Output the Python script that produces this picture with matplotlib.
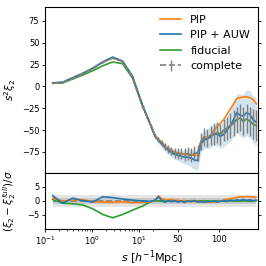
import numpy as np
import matplotlib
matplotlib.use("Agg")
import matplotlib.pyplot as plt
from matplotlib.ticker import FixedLocator, FixedFormatter

# separation bins: log bins at small s, linear bins above ~20
s = [0.146, 0.238, 0.389, 0.634, 1.04, 1.69, 2.76, 4.5, 7.3, 12.0, 18.0,
     22, 26, 30, 34, 38, 42, 46, 50, 54, 58, 62, 66, 70, 74, 78, 82, 86, 90,
     94, 98, 102, 106, 110, 114, 118, 122, 126, 130, 134, 138, 142, 146]

# s^2 xi_2
xi_complete = [3.8, 4.3, 9.5, 14.5, 20.5, 27.5, 32.5, 28.5, 11, -23, -45,
               -57, -61, -65, -69, -72, -74, -76, -77, -77, -78, -77, -79, -77, -76,
               -63, -58, -59, -56, -55, -53, -55, -50, -48, -45, -42, -38, -36, -40,
               -37, -40, -43, -45]
err_complete = [0.4, 0.4, 0.5, 0.6, 0.7, 0.8, 0.9, 1.0, 1.2, 1.5, 2.0,
                2.5, 3, 3.5, 4, 4.5, 5, 5.5, 6, 6.5, 7, 7.5, 8, 8.5, 9, 9.5, 10, 10.5,
                11, 11.5, 12, 12.5, 13, 13.5, 14, 14.5, 15, 15.5, 16, 16.5, 17, 17.5, 18]
xi_pip = [3.9, 4.4, 9.7, 14.6, 20.6, 27.6, 32.5, 28.6, 11.2, -22, -45,
          -56, -60, -64, -68, -71, -73, -75, -76, -77, -77, -78, -78, -79, -79,
          -64, -60, -58, -56, -50, -46, -42, -38, -32, -26, -20, -14, -13, -12,
          -12, -13, -15, -20]
xi_auw = [4.2, 4.8, 10, 15, 21, 28, 33.6, 29, 11.5, -22, -45,
          -57, -62, -66, -70, -73, -76, -78, -79, -80, -81, -81, -82, -84, -85,
          -66, -61, -60, -58, -54, -55, -57, -55, -50, -45, -38, -30, -33, -34,
          -30, -32, -38, -41]
std_auw = [0.5, 0.5, 0.6, 0.7, 0.8, 0.9, 1.0, 1.1, 1.3, 1.6, 2.2,
           3, 3.5, 4, 4.5, 5, 5, 5.5, 6, 7, 8, 9, 10, 11, 11, 10, 10, 11, 12,
           13, 13, 14, 14, 16, 18, 20, 22, 24, 25, 26, 27, 27, 27]
xi_fid = [3.5, 4.0, 8.5, 13, 18, 23.5, 28, 26, 9.5, -23, -45,
          -57, -61, -65, -69, -72, -74, -76, -77, -77, -78, -77, -79, -77, -76,
          -63, -58, -59, -56, -55, -53, -55, -50, -48, -45, -42, -38, -36, -40,
          -37, -40, -43, -45]

# (xi_2 - xi_2^full)/sigma
res_pip = [1.0, 0.0, 0.3, 0.5, -0.3, -0.4, -0.5, -0.3, -0.6, -0.5, -0.3,
           0.2, 1.8, 0.8, 0.5, 0.3, 0.6, 0.2, 0.3, -0.1, 0.2, -0.2, 0.0, -0.3, -0.1,
           -0.4, -0.2, -0.5, -0.3, -0.4, -0.2, 0.0, 0.3, 0.6, 0.8, 1.0, 1.3, 1.5,
           1.4, 1.6, 1.5, 1.4, 1.3]
res_auw = [1.9, -0.8, 1.0, 0.1, -0.4, 1.5, 1.2, 0.7, 0.3, 0.0, -0.2,
           0.3, 1.5, 0.2, -0.5, 0.2, -0.3, 0.1, -0.4, 0.0, -0.6, 0.1, -0.3, 0.2, -0.4,
           -0.2, -0.5, -0.1, -0.3, 0.0, -0.4, -0.1, 0.2, -0.2, 0.3, 0.1, 0.4, 0.2,
           0.5, 0.2, 0.4, 0.1, 0.3]
res_fid = [0.5, -0.8, -1.0, -1.4, -2.8, -4.8, -6.0, -4.8, -3.3, -1.8, -0.2,
           0.1, 0.0, -0.1, 0.1, 0.0, -0.1, 0.0, 0.1, 0.0, -0.1, 0.0, 0.1, 0.0, -0.1,
           0.0, 0.1, 0.0, -0.1, 0.0, 0.1, 0.0, -0.1, 0.0, 0.1, 0.0, -0.1, 0.0,
           0.1, 0.0, -0.1, 0.0, 0.1]

s = np.array(s)

# log below s_t, linear above, with matching slope
s_t = 25.0
c = 1 / (s_t * np.log(10))


def fwd(x):
    x = np.asarray(x, dtype=float)
    lg = np.log10(np.maximum(x, 1e-10))
    return np.where(x < s_t, lg, np.log10(s_t) + (x - s_t) * c)


def inv(y):
    y = np.asarray(y, dtype=float)
    return np.where(y < np.log10(s_t), 10 ** np.minimum(y, np.log10(s_t)),
                    s_t + (y - np.log10(s_t)) / c)


plt.rcParams['font.size'] = 8
fig = plt.figure(figsize=(2.66, 2.66), dpi=100)
ax1 = fig.add_axes([0.169, 0.350, 0.801, 0.624])
ax2 = fig.add_axes([0.169, 0.139, 0.801, 0.211], sharex=ax1)

ax1.set_xscale('function', functions=(fwd, inv))

lw = 1.2
l_fid, = ax1.plot(s, xi_fid, color='tab:green', lw=lw, label='fiducial', zorder=2)
ax1.fill_between(s, np.array(xi_auw) - std_auw, np.array(xi_auw) + std_auw,
                 color='tab:blue', alpha=0.2, lw=0, zorder=1)
l_pip, = ax1.plot(s, xi_pip, color='tab:orange', lw=lw, label='PIP', zorder=3)
l_auw, = ax1.plot(s, xi_auw, color='tab:blue', lw=lw, label='PIP + AUW', zorder=4)
eb = ax1.errorbar(s, xi_complete, yerr=err_complete, color='tab:gray', ls='--',
                  lw=lw, elinewidth=1.0, label='complete', zorder=5)
ax1.legend(handles=[l_pip, l_auw, l_fid, eb], loc='upper right', frameon=False,
           fontsize=8, borderaxespad=0.3, handlelength=1.9)

ax1.set_ylim(-99, 91)
ax1.set_yticks([-75, -50, -25, 0, 25, 50, 75])
ax1.set_ylabel(r'$s^2\xi_2$', fontsize=7.5)

ax2.fill_between(s, -2, 2, color='gray', alpha=0.2, lw=0)
ax2.fill_between(s, -1, 1, color='gray', alpha=0.25, lw=0)
ax2.plot(s, np.zeros(len(s)), color='tab:gray', ls='--', lw=lw)
ax2.plot(s, res_fid, color='tab:green', lw=lw)
ax2.plot(s, res_pip, color='tab:orange', lw=lw)
ax2.plot(s, res_auw, color='tab:blue', lw=lw)
ax2.set_ylim(-10, 10)
ax2.set_yticks([-5, 0, 5])
ax2.set_ylabel(r'$(\xi_2-\xi_2^{full})/\sigma$', fontsize=7.5)
ax2.set_xlabel(r'$s$ [$h^{-1}$Mpc]', labelpad=1)

ax2.set_xlim(0.1, 148)
ax2.xaxis.set_major_locator(FixedLocator([0.1, 1, 10, 50, 100]))
ax2.xaxis.set_major_formatter(FixedFormatter(
    [r'$10^{-1}$', r'$10^{0}$', r'$10^{1}$', '50', '100']))
minors = [0.2, 0.3, 0.4, 0.5, 0.6, 0.7, 0.8, 0.9,
          2, 3, 4, 5, 6, 7, 8, 9, 20]
ax2.xaxis.set_minor_locator(FixedLocator(minors))
ax2.xaxis.set_minor_formatter(FixedFormatter([''] * len(minors)))

for ax in (ax1, ax2):
    ax.tick_params(right=True, labelsize=6, length=2.5, width=0.6, pad=1.5)
    ax.tick_params(which='minor', length=1.5, width=0.5)
    ax.yaxis.set_label_coords(-0.125, 0.5)
ax1.tick_params(labelbottom=False, bottom=False, which='both')

fig.savefig('out.png', dpi=100)
